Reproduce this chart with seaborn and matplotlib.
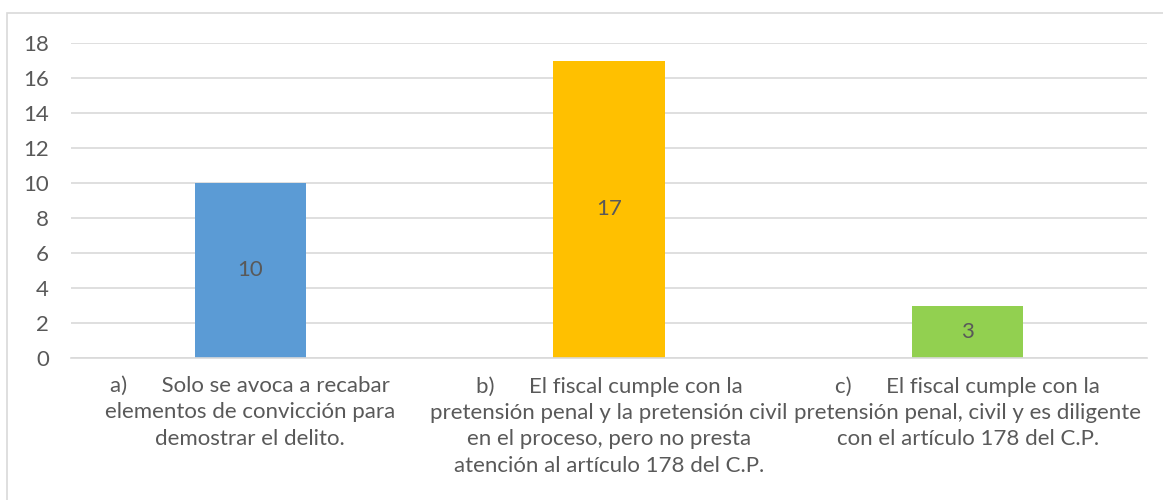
import matplotlib
matplotlib.use("Agg")
import matplotlib.pyplot as plt
import seaborn as sns
import pandas as pd
from matplotlib.patches import Rectangle

categories = [
    "a)      Solo se avoca a recabar\nelementos de convicción para\ndemostrar el delito.",
    "b)      El fiscal cumple con la\npretensión penal y la pretensión civil\nen el proceso, pero no presta\natención al artículo 178 del C.P.",
    "c)      El fiscal cumple con la\npretensión penal, civil y es diligente\ncon el artículo 178 del C.P.",
]
values = [10, 17, 3]
colors = ["#5B9BD5", "#FFC000", "#92D050"]
yticks = [0, 2, 4, 6, 8, 10, 12, 14, 16, 18]

sns.set_theme(style="white")
plt.rcParams["font.family"] = ["Lato", "DejaVu Sans"]
text_color = "#595959"
fs = 16

df = pd.DataFrame({"cat": categories, "val": values})

fig = plt.figure(figsize=(11.63, 5.0), dpi=100)
ax = fig.add_axes([71 / 1163, 1 - 358 / 500, (1147 - 71) / 1163, (358 - 43) / 500])

sns.barplot(data=df, x="cat", y="val", hue="cat", palette=colors,
            width=0.31, legend=False, ax=ax, saturation=1, linewidth=0)

ax.set_ylim(0, 18)
ax.set_yticks(yticks)
ax.yaxis.grid(True, color="#d9d9d9", linewidth=1.2)
ax.set_axisbelow(True)
for s in ["top", "right", "left"]:
    ax.spines[s].set_visible(False)
ax.spines["bottom"].set_color("#d9d9d9")
ax.spines["bottom"].set_linewidth(1.2)
ax.set_xlabel("")
ax.set_ylabel("")
ax.tick_params(axis="both", length=0, colors=text_color, labelsize=fs)
ax.tick_params(axis="x", pad=13)
ax.tick_params(axis="y", pad=16)
for lbl in ax.get_xticklabels():
    lbl.set_fontsize(fs)
    lbl.set_linespacing(1.4)
    lbl.set_color(text_color)

for cont in ax.containers:
    ax.bar_label(cont, label_type="center", color=text_color, fontsize=fs)

fig.patches.append(Rectangle((7 / 1163, -0.1), 1.2, 1 - 13 / 500 + 0.1,
                             transform=fig.transFigure, fill=False,
                             edgecolor="#d9d9d9", linewidth=1.2, zorder=-1))

fig.savefig("out.png", dpi=100, facecolor="white")
